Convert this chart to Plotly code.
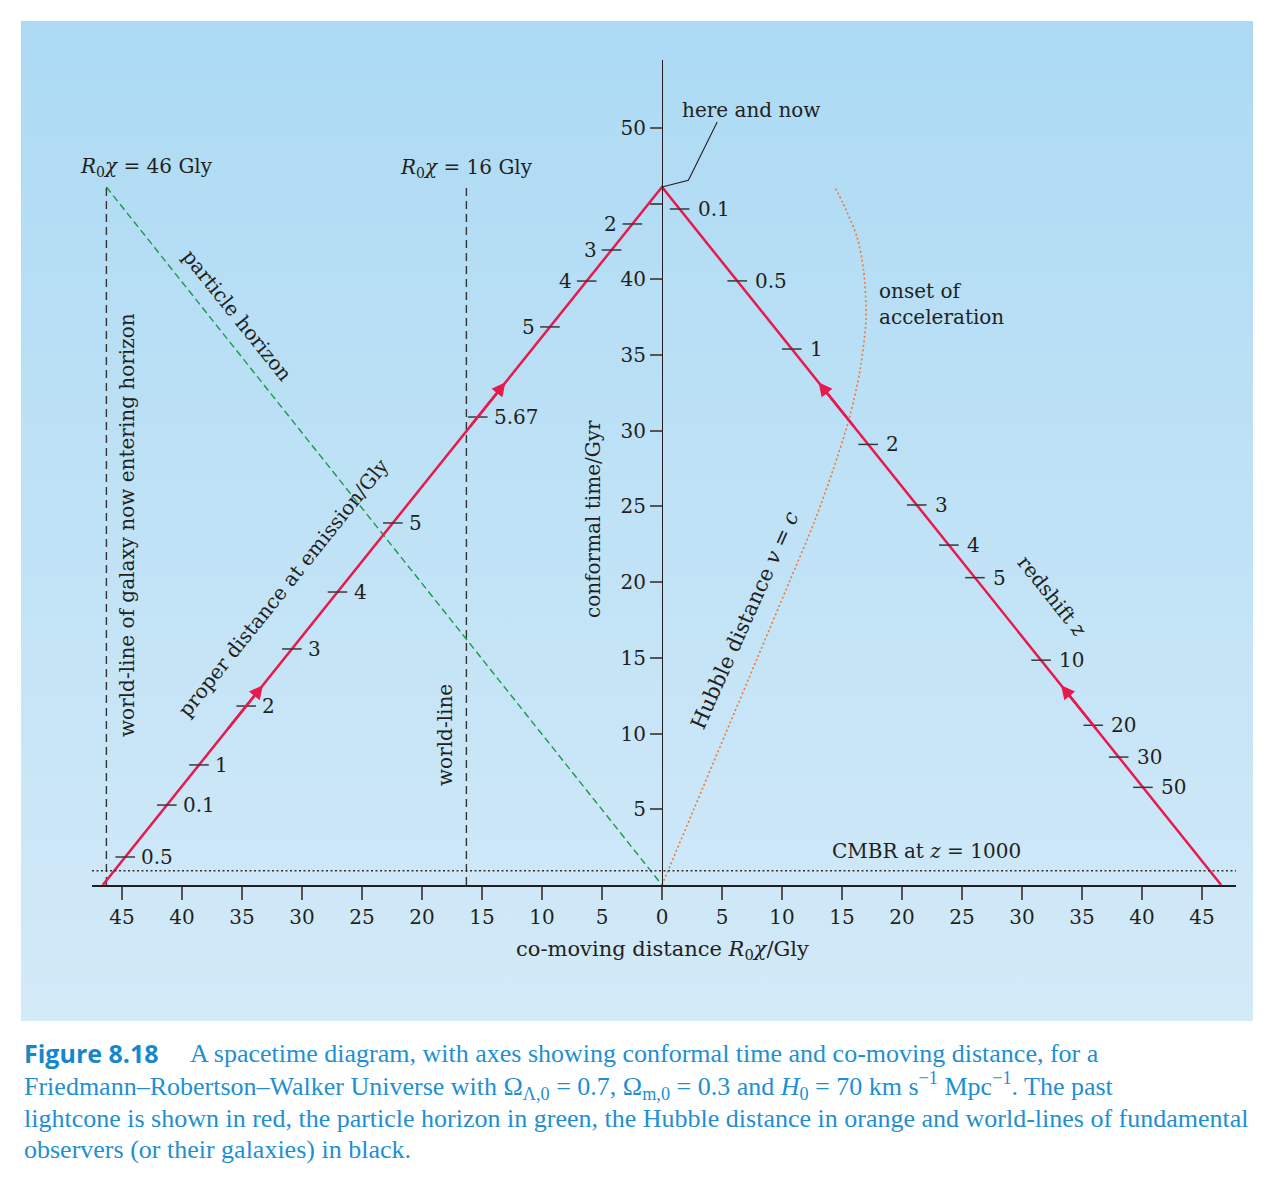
import base64
import numpy as np
import plotly.graph_objects as go

# ---------------- data ----------------
cone_x = [-46.6, 0.0, 46.6]          # past light cone (co-moving distance, Gly)
cone_t = [0.0, 46.1, 0.0]            # conformal time, Gyr

horizon_x = [-46.3, 0.0]             # particle horizon
horizon_t = [46.1, 0.0]

worldline_46_x = [-46.3, -46.3]      # galaxy now entering horizon
worldline_16_x = [-16.3, -16.3]      # galaxy at R0chi = 16 Gly
worldline_t = [0.0, 46.1]

hubble_x = [0.0, 2.65, 5.3, 7.95, 10.6, 12.7, 14.25, 15.6, 16.5, 17.0, 16.8, 16.25, 15.1, 14.4]
hubble_t = [0.0, 5.0, 10.0, 15.0, 20.0, 24.0, 27.4, 30.8, 34.0, 37.4, 40.6, 42.8, 45.0, 46.1]

cmbr_t = 0.94

leader_x = [0.0, 2.2, 4.6]           # "here and now" pointer
leader_t = [46.1, 46.55, 50.4]

z_labels = ["0.1", "0.5", "1", "2", "3", "4", "5", "10", "20", "30", "50"]
z_t = [44.65, 39.9, 35.4, 29.1, 25.1, 22.45, 20.3, 14.85, 10.55, 8.45, 6.45]

d_labels = ["0.5", "0.1", "1", "2", "3", "4", "5", "5.67", "5", "4", "3", "2"]
d_t = [1.85, 5.28, 7.93, 11.82, 15.59, 19.35, 23.91, 30.91, 36.86, 39.89, 41.94, 43.66]
d_left_side = [False] * 8 + [True] * 4

arrow_t = [13.2, 33.2]

xtick_vals = [-45, -40, -35, -30, -25, -20, -15, -10, -5, 0, 5, 10, 15, 20, 25, 30, 35, 40, 45]
xtick_text = [str(abs(v)) for v in xtick_vals]
ytick_vals = [5, 10, 15, 20, 25, 30, 35, 40, 45, 50]
ytick_text = ["5", "10", "15", "20", "25", "30", "35", "40", "", "50"]

# ---------------- styles ----------------
RED = "#e8194d"
INK = "#231f20"
TICKINK = "#3a3a3a"
CAP = "#1e8fd3"
SERIF = "DejaVu Serif"
FS = 20

X_RANGE = [-47.5, 47.833]
Y_RANGE = [0, 54.49]


def pp(px, py):
    """figure pixel -> paper coordinates (plot area 92..1236 x 60..885)"""
    return (px - 92) / 1144.0, (885 - py) / 825.0


def left_branch(t):
    return np.interp(t, [cone_t[0], cone_t[1]], [cone_x[0], cone_x[1]])


def right_branch(t):
    return np.interp(t, [cone_t[2], cone_t[1]], [cone_x[2], cone_x[1]])


fig = go.Figure()

# world-lines
for wx in (worldline_46_x, worldline_16_x):
    fig.add_trace(go.Scatter(x=wx, y=worldline_t, mode="lines",
                             line=dict(color="#333333", width=1.4, dash="8px,5px"),
                             hoverinfo="skip"))
# particle horizon
fig.add_trace(go.Scatter(x=horizon_x, y=horizon_t, mode="lines",
                         line=dict(color="#1a9a4a", width=1.4, dash="7px,4px"),
                         hoverinfo="skip"))
# Hubble distance
fig.add_trace(go.Scatter(x=hubble_x, y=hubble_t, mode="lines",
                         line=dict(color="#ee7a3a", width=1.6, dash="2px,2.5px",
                                   shape="spline", smoothing=0.8),
                         hoverinfo="skip"))
# CMBR line
fig.add_shape(type="line", xref="paper", x0=0, x1=1, yref="y", y0=cmbr_t, y1=cmbr_t,
              line=dict(color="#333333", width=1.3, dash="2px,2.5px"))
# light cone
fig.add_trace(go.Scatter(x=cone_x, y=cone_t, mode="lines",
                         line=dict(color=RED, width=2.5), hoverinfo="skip"))
# here-and-now leader
fig.add_trace(go.Scatter(x=leader_x, y=leader_t, mode="lines",
                         line=dict(color=INK, width=1.1), hoverinfo="skip"))

# tick marks on the light cone
zx = right_branch(np.array(z_t))
dx = left_branch(np.array(d_t))
fig.add_trace(go.Scatter(x=np.concatenate([zx, dx]), y=list(z_t) + list(d_t), mode="markers",
                         marker=dict(symbol="line-ew", size=14, color=TICKINK,
                                     line=dict(width=1.5, color=TICKINK)),
                         hoverinfo="skip"))

annotations = []
for lab, x, t in zip(z_labels, zx, z_t):
    annotations.append(dict(x=x, y=t, xref="x", yref="y", text=lab, showarrow=False,
                            xanchor="left", yanchor="middle", xshift=16,
                            font=dict(family=SERIF, size=FS, color=INK)))
for lab, x, t, left in zip(d_labels, dx, d_t, d_left_side):
    annotations.append(dict(x=x, y=t, xref="x", yref="y", text=lab, showarrow=False,
                            xanchor="right" if left else "left", yanchor="middle",
                            xshift=-13 if left else 14,
                            font=dict(family=SERIF, size=FS, color=INK)))

# arrows on the light cone
for t in arrow_t:
    for branch in (left_branch, right_branch):
        annotations.append(dict(x=float(branch(t)), y=t, ax=float(branch(t - 3)), ay=t - 3,
                                xref="x", yref="y", axref="x", ayref="y", text="",
                                showarrow=True, arrowhead=2, arrowsize=1.1, arrowwidth=2.5,
                                arrowcolor=RED))


def label(px, py, text, angle=0, xanchor="center", size=FS, family=SERIF, color=INK, align="center"):
    x, y = pp(px, py)
    annotations.append(dict(x=x, y=y, xref="paper", yref="paper", text=text, showarrow=False,
                            textangle=angle, xanchor=xanchor, yanchor="middle", align=align,
                            font=dict(family=family, size=size, color=color)))


label(78, 167, "<i>R</i><sub>0</sub><i>χ</i> = 46 Gly", xanchor="left")
label(398, 168, "<i>R</i><sub>0</sub><i>χ</i> = 16 Gly", xanchor="left")
label(680, 110, "here and now", xanchor="left")
label(237, 315, "particle horizon", angle=51.4)
label(127, 525, "world-line of galaxy now entering horizon", angle=-90)
label(283, 588, "proper distance at emission/Gly", angle=-51.4)
label(445, 735, "world-line", angle=-90)
label(593, 519, "conformal time/Gyr", angle=-90)
label(745, 620, "Hubble distance <i>v</i> = <i>c</i>", angle=-66, size=21)
label(877, 304, "onset of<br>acceleration", xanchor="left", align="left")
label(1052, 596, "redshift <i>z</i>", angle=51.4)
label(830, 851, "CMBR at <i>z</i> = 1000", xanchor="left")
label(662, 950, "co-moving distance <i>R</i><sub>0</sub><i>χ</i>/Gly", size=21)

# caption
CAPFONT = "Liberation Serif"
CS = 26
label(22, 1053, "<b>Figure 8.18</b>", xanchor="left", size=25, family="Open Sans", color="#1787cc")
label(188, 1053, "A spacetime diagram, with axes showing conformal time and co-moving distance, for a",
      xanchor="left", size=CS, family=CAPFONT, color=CAP)
label(22, 1086, "Friedmann–Robertson–Walker Universe with Ω<sub>Λ,0</sub> = 0.7, Ω<sub>m,0</sub> = 0.3 and "
                "<i>H</i><sub>0</sub> = 70 km s<sup>−1</sup> Mpc<sup>−1</sup>. The past",
      xanchor="left", size=CS, family=CAPFONT, color=CAP)
label(22, 1118, "lightcone is shown in red, the particle horizon in green, the Hubble distance in orange "
                "and world-lines of fundamental", xanchor="left", size=CS, family=CAPFONT, color=CAP)
label(22, 1149, "observers (or their galaxies) in black.", xanchor="left", size=CS, family=CAPFONT, color=CAP)

# background gradient panel
svg = ('<svg xmlns="http://www.w3.org/2000/svg" width="100" height="100" viewBox="0 0 100 100" '
       'preserveAspectRatio="none"><defs><linearGradient id="g" x1="0" y1="0" x2="0" y2="1">'
       '<stop offset="0" stop-color="#acdaf4"/><stop offset="1" stop-color="#d3eaf8"/>'
       '</linearGradient></defs><rect x="0" y="0" width="100" height="100" fill="url(#g)"/></svg>')
src = "data:image/svg+xml;base64," + base64.b64encode(svg.encode()).decode()
bx0, by0 = pp(21, 21)
bx1, by1 = pp(1253, 1021)

fig.update_layout(
    width=1275, height=1185,
    margin=dict(l=92, r=39, t=60, b=300),
    paper_bgcolor="white", plot_bgcolor="rgba(0,0,0,0)",
    showlegend=False,
    font=dict(family=SERIF, size=FS, color=INK),
    annotations=annotations,
    images=[dict(source=src, xref="paper", yref="paper", x=bx0, y=by0,
                 sizex=bx1 - bx0, sizey=by0 - by1, xanchor="left", yanchor="top",
                 sizing="stretch", layer="below")],
    xaxis=dict(range=X_RANGE, showgrid=False, zeroline=False, showline=True,
               linecolor=INK, linewidth=1.5, ticks="outside", ticklen=13, tickwidth=1.5,
               tickcolor="#555555", tickvals=xtick_vals, ticktext=xtick_text,
               tickfont=dict(family=SERIF, size=FS, color=INK)),
    yaxis=dict(range=Y_RANGE, anchor="free", position=(0 - X_RANGE[0]) / (X_RANGE[1] - X_RANGE[0]),
               showgrid=False, zeroline=False, showline=True, linecolor=INK, linewidth=1.2,
               ticks="outside", ticklen=12, tickwidth=1.5, tickcolor="#555555",
               tickvals=ytick_vals, ticktext=ytick_text,
               tickfont=dict(family=SERIF, size=FS, color=INK)),
)

fig.write_html("out.html")
